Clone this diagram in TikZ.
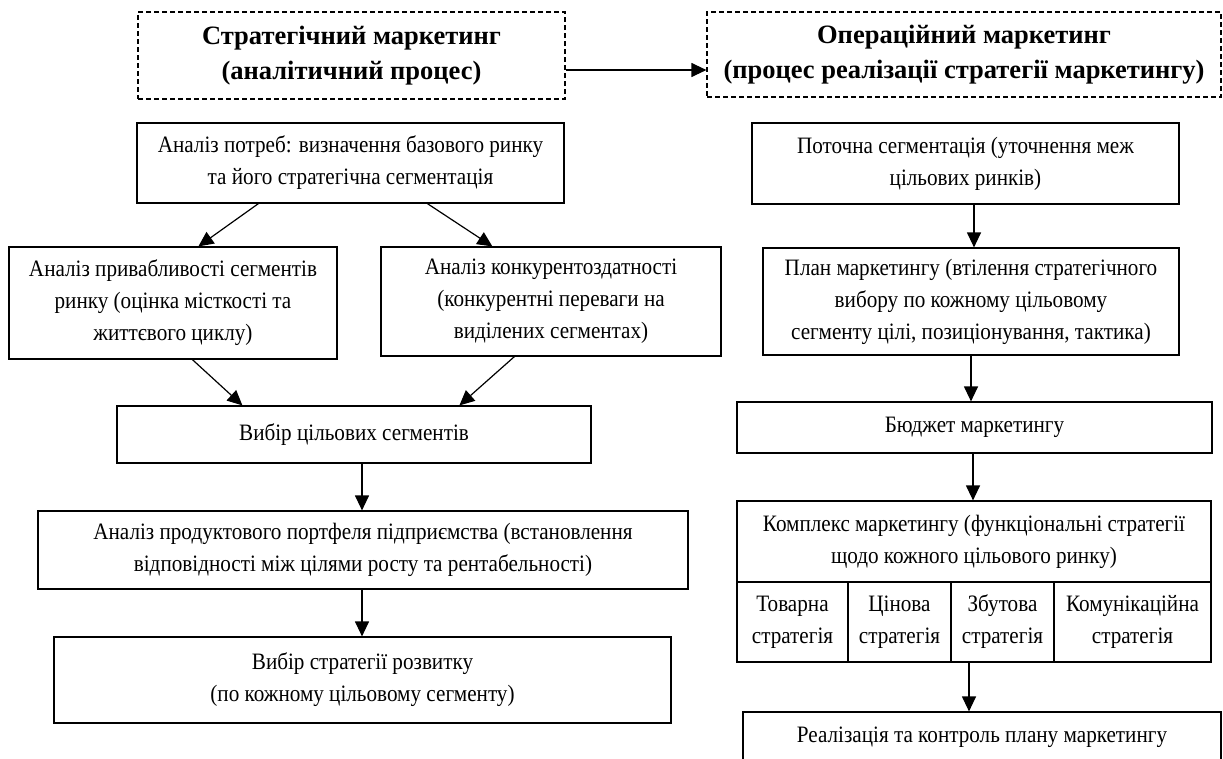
\documentclass[tikz,border=0pt]{standalone}
\usepackage{fontspec}
\setmainfont[FakeStretch=0.9]{Liberation Serif}
\newfontfamily\hdfont{Liberation Serif}
\usetikzlibrary{arrows.meta,calc}
\tikzset{
  box/.style={draw, line width=1.2pt, inner sep=0pt, align=center, rectangle,
    font=\fontsize{23.5}{32}\selectfont},
  hdbox/.style={draw, line width=1.2pt, dash pattern=on 5pt off 3pt, inner sep=0pt,
    align=center, rectangle, font=\hdfont\bfseries\fontsize{26.5}{35}\selectfont},
  arr/.style={line width=1.2pt, -{Triangle[length=15pt,width=14pt]}}
}
\begin{document}
\begin{tikzpicture}[x=1pt,y=-1pt]
\useasboundingbox (0,0) rectangle (1223,758);
\clip (0,0) rectangle (1223,758);
% headers
\node[hdbox, minimum width=427, minimum height=87] (h1) at (351.5,55.5)
  {Стратегічний маркетинг\\(аналітичний процес)};
\node[hdbox, minimum width=514, minimum height=85] (h2) at (964,54.5)
  {Операційний маркетинг\\(процес реалізації стратегії маркетингу)};
\coordinate (ha) at (0,70);
\draw[arr] (h1.east |- ha) -- (h2.west |- ha);
% left column
\node[box, minimum width=427, minimum height=80] (a1) at (350.5,163)
  {Аналіз потреб: визначення базового ринку\\та його стратегічна сегментація};
\node[box, minimum width=328, minimum height=112] (a2) at (173,303)
  {Аналіз привабливості сегментів\\ринку (оцінка місткості та\\життєвого циклу)};
\node[box, minimum width=340, minimum height=109] (a3) at (551,301.5)
  {Аналіз конкурентоздатності\\(конкурентні переваги на\\виділених сегментах)};
\node[box, minimum width=474, minimum height=57] (a4) at (354,434.5)
  {Вибір цільових сегментів};
\node[box, minimum width=650, minimum height=78] (a5) at (363,550)
  {Аналіз продуктового портфеля підприємства (встановлення\\відповідності між цілями росту та рентабельності)};
\node[box, minimum width=617, minimum height=86] (a6) at (362.5,680)
  {Вибір стратегії розвитку\\(по кожному цільовому сегменту)};
\draw[arr] ($(a1.south west)+(122,0)$) -- ($(a2.north west)+(190,0)$);
\draw[arr] ($(a1.south west)+(291,0)$) -- ($(a3.north west)+(112,0)$);
\draw[arr] ($(a2.south west)+(184,0)$) -- ($(a4.north west)+(126,0)$);
\draw[arr] ($(a3.south west)+(134,0)$) -- ($(a4.north west)+(343,0)$);
\coordinate (lx) at (362,0);
\draw[arr] (a4.south -| lx) -- (a5.north -| lx);
\draw[arr] (a5.south -| lx) -- (a6.north -| lx);
% right column
\node[box, minimum width=427, minimum height=81] (b1) at (965.5,163.5)
  {Поточна сегментація (уточнення меж\\цільових ринків)};
\node[box, minimum width=416, minimum height=107] (b2) at (971,301.5)
  {План маркетингу (втілення стратегічного\\вибору по кожному цільовому\\сегменту цілі, позиціонування, тактика)};
\node[box, minimum width=475, minimum height=51] (b3) at (974.5,427.5)
  {Бюджет маркетингу};
\node[box, minimum width=474, minimum height=81] (b4) at (974,541.5)
  {Комплекс маркетингу (функціональні стратегії\\щодо кожного цільового ринку)};
\node[box, minimum width=111, minimum height=80] (c1) at (792.5,622)
  {Товарна\\стратегія};
\node[box, minimum width=103, minimum height=80] (c2) at (899.5,622)
  {Цінова\\стратегія};
\node[box, minimum width=103, minimum height=80] (c3) at (1002.5,622)
  {Збутова\\стратегія};
\node[box, minimum width=157, minimum height=80] (c4) at (1132.5,622)
  {Комунікаційна\\стратегія};
\node[box, minimum width=478, minimum height=50] (b5) at (982,737)
  {Реалізація та контроль плану маркетингу};
\coordinate (r1) at (974,0);
\coordinate (r2) at (971,0);
\coordinate (r3) at (973,0);
\coordinate (r4) at (969,0);
\draw[arr] (b1.south -| r1) -- (b2.north -| r1);
\draw[arr] (b2.south -| r2) -- (b3.north -| r2);
\draw[arr] (b3.south -| r3) -- (b4.north -| r3);
\draw[arr] (c3.south -| r4) -- (b5.north -| r4);
\end{tikzpicture}
\end{document}
